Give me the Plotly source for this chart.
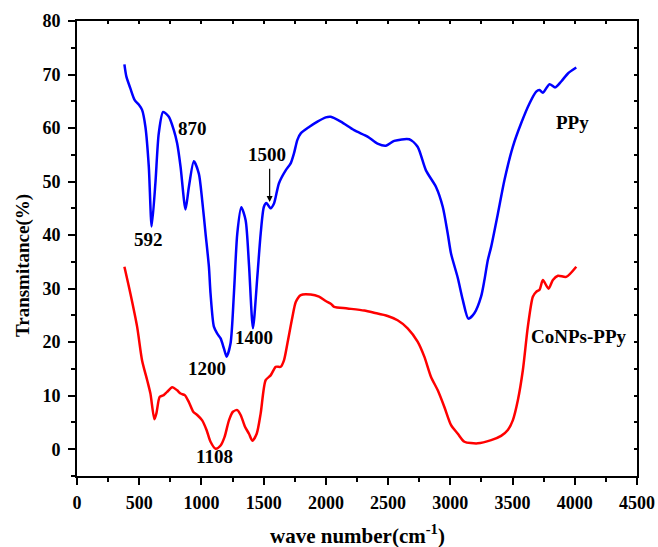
import plotly.graph_objects as go

# PPy spectrum (wave number, transmittance %)
ppy_x = [381, 397, 429, 464, 496, 523, 550, 577, 600, 630, 657, 692, 738, 778, 805,
         832, 872, 899, 939, 979, 1006, 1033, 1060, 1073, 1100, 1127, 1154, 1181, 1202,
         1234, 1261, 1288, 1320, 1355, 1382, 1414, 1449, 1476, 1502, 1522, 1556, 1583,
         1623, 1677, 1717, 1744, 1771, 1798, 1865, 1932, 1999, 2039, 2120, 2227, 2335,
         2415, 2482, 2549, 2670, 2737, 2804, 2885, 2939, 2979, 3006, 3060, 3100, 3145,
         3193, 3247, 3274, 3301, 3328, 3382, 3435, 3502, 3569, 3636, 3690, 3717, 3744,
         3797, 3843, 3891, 3945, 4012]
ppy_y = [71.9, 69.6, 67.4, 65.2, 64.4, 63.4, 60.2, 52.8, 41.6, 49.7, 59.0, 63.0, 62.1, 59.6, 57.1,
         52.8, 44.8, 49.0, 53.8, 51.5, 46.5, 40.3, 34.1, 29.1, 22.9, 21.6, 20.7, 18.8, 17.3,
         19.8, 29.1, 40.3, 45.2, 42.8, 34.5, 22.6, 32.2, 40.3, 45.3, 46.0, 45.0, 45.9,
         49.7, 52.1, 53.4, 55.3, 57.8, 59.0, 60.2, 61.2, 62.0, 62.1, 61.2, 59.6, 58.4,
         57.1, 56.7, 57.6, 57.9, 56.5, 52.1, 49.0, 45.3, 40.3, 36.5, 32.0, 27.9, 24.4,
         25.4, 28.5, 31.6, 35.3, 37.8, 44.0, 50.3, 56.5, 60.9, 64.6, 66.8, 67.1, 66.6,
         68.2, 67.6, 68.7, 70.2, 71.3]

# CoNPs-PPy spectrum
co_x = [381, 429, 483, 523, 564, 590, 622, 638, 665, 697, 724, 765, 805, 832, 866,
        899, 934, 966, 1006, 1041, 1073, 1114, 1154, 1186, 1221, 1253, 1288, 1315, 1350,
        1382, 1409, 1444, 1476, 1516, 1556, 1597, 1637, 1663, 1691, 1731, 1758, 1798,
        1878, 1945, 1999, 2039, 2066, 2174, 2308, 2388, 2496, 2576, 2657, 2737, 2791,
        2845, 2899, 2952, 3006, 3060, 3113, 3221, 3328, 3408, 3462, 3502, 3543, 3583,
        3623, 3663, 3690, 3717, 3744, 3789, 3824, 3865, 3931, 4012]
co_y = [34.1, 29.1, 22.9, 16.6, 12.9, 10.4, 5.6, 6.7, 9.8, 10.1, 10.7, 11.6, 11.0, 10.4, 10.1,
        8.8, 7.0, 6.4, 5.4, 3.6, 1.4, 0.1, 0.7, 2.3, 5.4, 7.0, 7.3, 6.4, 4.2,
        2.9, 1.6, 2.9, 6.7, 12.9, 13.8, 15.4, 15.4, 16.6, 19.8, 24.7, 27.5, 28.8,
        28.9, 28.5, 27.7, 27.2, 26.6, 26.3, 25.9, 25.5, 24.9, 24.1, 22.6, 20.1, 17.3,
        13.5, 11.0, 7.9, 4.5, 2.9, 1.4, 1.1, 1.7, 2.5, 3.6, 5.4, 9.2, 14.8,
        22.9, 28.5, 29.4, 29.8, 31.6, 30.0, 31.6, 32.4, 32.2, 34.1]

# Peak labels (text, x, y)
peak_labels = [("592", 574, 39.1), ("870", 932, 60.0), ("1200", 1042, 15.1),
               ("1400", 1423, 20.9), ("1108", 1101, -1.3), ("1500", 1524, 55.0)]
series_labels = [("PPy", 3985, 61.0), ("CoNPs-PPy", 4028, 21.0)]

FONT = "Liberation Serif"

fig = go.Figure()
fig.add_trace(go.Scatter(x=ppy_x, y=ppy_y, mode="lines", name="PPy",
                         line=dict(color="#0000FF", width=2.5, shape="spline", smoothing=0.7)))
fig.add_trace(go.Scatter(x=co_x, y=co_y, mode="lines", name="CoNPs-PPy",
                         line=dict(color="#FF0000", width=2.5, shape="spline", smoothing=0.7)))
# invisible trace to keep mirrored axes
fig.add_trace(go.Scatter(x=[0], y=[0], xaxis="x2", yaxis="y2", mode="markers",
                         marker=dict(opacity=0), showlegend=False, hoverinfo="skip"))

for t, x, y in peak_labels + series_labels:
    fig.add_annotation(x=x, y=y, text="<b>%s</b>" % t, showarrow=False,
                       xanchor="center", yanchor="middle",
                       font=dict(family=FONT, size=19, color="black"))

fig.add_annotation(x=1548, y=46.2, ax=1548, ay=52.7, axref="x", ayref="y",
                   text="", showarrow=True, arrowhead=2, arrowsize=1, arrowwidth=1.2,
                   arrowcolor="black")

fig.add_annotation(xref="paper", yref="paper", x=0.5, y=-0.128,
                   xanchor="center", yanchor="middle",
                   text="<b>wave number(cm<sup>-1</sup>)</b>", showarrow=False,
                   font=dict(family=FONT, size=21, color="black"))
fig.add_annotation(xref="paper", yref="paper", x=-0.0964, y=0.4615, textangle=-90,
                   xanchor="center", yanchor="middle",
                   text="<b>Transmitance(%)</b>", showarrow=False,
                   font=dict(family=FONT, size=19, color="black"))

tickfont = dict(family=FONT, size=18, color="black", weight="bold")
fig.update_layout(
    width=658, height=547,
    margin=dict(l=77, r=21, t=21, b=71, autoexpand=False),
    plot_bgcolor="white", paper_bgcolor="white",
    showlegend=False,
    xaxis=dict(range=[0, 4500], dtick=500, tick0=0, ticks="outside", ticklen=7,
               tickwidth=1.5, tickcolor="black", showline=True, linecolor="black",
               linewidth=2, showgrid=False, zeroline=False, tickfont=tickfont,
               ticklabelstandoff=2, automargin=False,
               minor=dict(dtick=250, ticks="outside", ticklen=4, tickwidth=1.5,
                          tickcolor="black", showgrid=False)),
    yaxis=dict(range=[-5, 80], dtick=10, tick0=0, ticks="outside", ticklen=7,
               tickwidth=1.5, tickcolor="black", showline=True, linecolor="black",
               linewidth=2, showgrid=False, zeroline=False, tickfont=tickfont,
               ticklabelstandoff=4, automargin=False,
               minor=dict(dtick=5, ticks="outside", ticklen=4, tickwidth=1.5,
                          tickcolor="black", showgrid=False)),
    xaxis2=dict(range=[0, 4500], overlaying="x", side="top", dtick=250, tick0=0,
                ticks="inside", ticklen=3, tickwidth=1.5, tickcolor="black",
                showline=True, linecolor="black", linewidth=2, showgrid=False,
                zeroline=False, showticklabels=False, automargin=False),
    yaxis2=dict(range=[-5, 80], overlaying="y", side="right", dtick=5, tick0=0,
                ticks="inside", ticklen=3, tickwidth=1.5, tickcolor="black",
                showline=True, linecolor="black", linewidth=2, showgrid=False,
                zeroline=False, showticklabels=False, automargin=False),
)

fig.write_html("out.html")
